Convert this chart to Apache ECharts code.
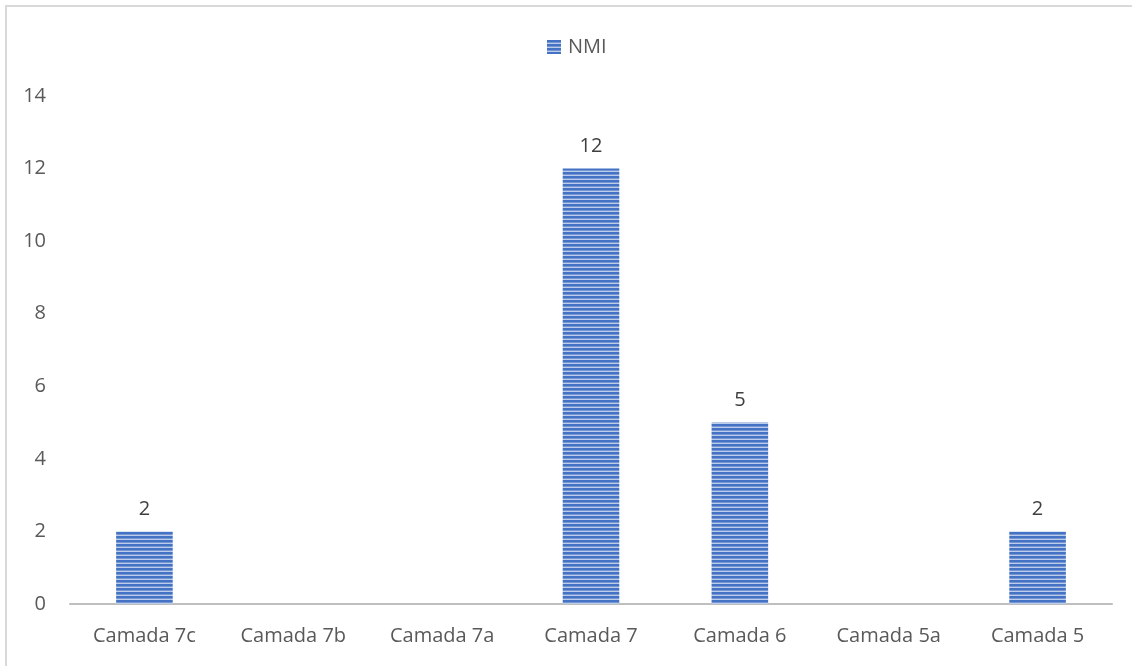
<!DOCTYPE html>
<html>
<head>
<meta charset="utf-8">
<script src="https://cdn.jsdelivr.net/npm/echarts@6/dist/echarts.min.js"></script>
<style>
  html, body { margin: 0; padding: 0; background: #fff; }
  #chart { width: 1132px; height: 666px; }
</style>
</head>
<body>
<div id="chart"></div>
<script>
const categories = ['Camada 7c', 'Camada 7b', 'Camada 7a', 'Camada 7', 'Camada 6', 'Camada 5a', 'Camada 5'];
const nmiValues = [2, 0, 0, 12, 5, 0, 2];
const seriesName = 'NMI';

// Horizontal stripe fill for the bars
function stripePattern() {
  const c = document.createElement('canvas');
  c.width = 8; c.height = 4;
  const ctx = c.getContext('2d');
  ctx.fillStyle = '#bccde9';
  ctx.fillRect(0, 0, 8, 4);
  ctx.fillStyle = '#4472c4';
  ctx.fillRect(0, 0, 8, 2);
  ctx.fillStyle = '#7696d3';
  ctx.fillRect(0, 2, 8, 1);
  return c;
}
const stripes = stripePattern();
const font = '"Open Sans", "Noto Sans", sans-serif';

const chart = echarts.init(document.getElementById('chart'), null, { renderer: 'canvas' });
chart.setOption({
  animation: false,
  backgroundColor: '#ffffff',
  graphic: [{
    type: 'rect',
    shape: { x: 6, y: 6, width: 1160, height: 700 },
    style: { fill: 'none', stroke: '#d9d9d9', lineWidth: 2 },
    silent: true
  }],
  legend: {
    top: 32,
    left: 542,
    icon: 'rect',
    itemWidth: 14,
    itemHeight: 14,
    itemGap: 4,
    textStyle: { color: '#595959', fontSize: 20, fontFamily: font, padding: [0, 0, 0, 2] },
    data: [seriesName]
  },
  grid: { left: 70, right: 20, top: 96, bottom: 62, containLabel: false },
  xAxis: {
    type: 'category',
    data: categories,
    axisLine: { lineStyle: { color: '#bfbfbf', width: 2 } },
    axisTick: { show: false },
    axisLabel: { color: '#595959', fontSize: 20, fontFamily: font, margin: 22 }
  },
  yAxis: {
    type: 'value',
    min: 0, max: 14, interval: 2,
    axisLine: { show: false },
    axisTick: { show: false },
    splitLine: { show: false },
    axisLabel: { color: '#595959', fontSize: 20, fontFamily: font, margin: 24 }
  },
  series: [{
    name: seriesName,
    type: 'bar',
    data: nmiValues,
    barWidth: '38%',
    itemStyle: { color: { image: stripes, repeat: 'repeat' } },
    label: {
      show: true,
      position: 'top',
      distance: 12,
      color: '#404040',
      fontSize: 20,
      fontFamily: font,
      formatter: p => p.value > 0 ? String(p.value) : ''
    }
  }]
});
</script>
</body>
</html>
